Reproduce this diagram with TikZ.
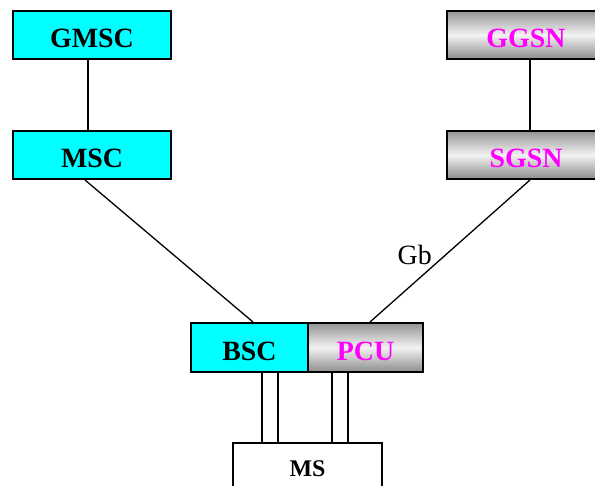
\documentclass[tikz,border=0pt]{standalone}
\usepackage{fontspec}
\setmainfont{Liberation Serif}
\usetikzlibrary{calc}
\definecolor{boxcyan}{HTML}{00FFFF}
\definecolor{labelmag}{HTML}{FF00FF}
\tikzset{
  netbox/.style={draw=black, line width=2bp, rectangle, inner sep=0pt,
    font=\fontsize{28}{30}\selectfont\bfseries, text height=30bp, text depth=4bp},
  cyanbox/.style={netbox, fill=boxcyan},
  greybox/.style={netbox, top color=black!42, bottom color=black!45,
    middle color=black!5, text=labelmag},
  link/.style={line width=1.3bp, black},
}
\begin{document}
\begin{tikzpicture}[x=1bp, y=-1bp]
  \useasboundingbox (0,0) rectangle (595,486);
  % circuit-switched side
  \node[cyanbox, minimum width=158bp, minimum height=48bp] (gmsc) at (92,35) {GMSC};
  \node[cyanbox, minimum width=158bp, minimum height=48bp] (msc) at (92,155) {MSC};
  % packet-switched side
  \node[greybox, minimum width=158bp, minimum height=48bp] (ggsn) at (526,35) {GGSN};
  \node[greybox, minimum width=158bp, minimum height=48bp] (sgsn) at (526,155) {SGSN};
  % base station controller with packet control unit
  \node[cyanbox, minimum width=117bp, minimum height=49bp] (bsc) at (249.5,347.5) {BSC};
  \node[greybox, minimum width=115bp, minimum height=49bp] (pcu) at (365.5,347.5) {PCU};
  % mobile station
  \node[draw=black, line width=1.5bp, fill=white, inner sep=0pt,
    minimum width=149bp, minimum height=47bp,
    font=\fontsize{24}{26}\selectfont\bfseries, text height=24bp, text depth=5bp]
    (ms) at (307.5,466.5) {MS};
  % links
  \draw[link] ([xshift=-4bp]gmsc.south) -- ([xshift=-4bp]msc.north);
  \draw[link] ([xshift=4bp]ggsn.south) -- ([xshift=4bp]sgsn.north);
  \draw[link] ([xshift=-7bp]msc.south) -- ([xshift=3.5bp]bsc.north);
  \draw[link] ([xshift=4bp]sgsn.south) -- ([xshift=4.5bp]pcu.north)
    node[pos=0.597, anchor=base west, xshift=-37.4bp, inner sep=0pt,
      font=\fontsize{28}{30}\selectfont] (gb) {Gb};
  % radio paths
  \draw[link] ([xshift=12.5bp]bsc.south) -- ([xshift=12.5bp]bsc.south |- ms.north);
  \draw[link] ([xshift=28.5bp]bsc.south) -- ([xshift=28.5bp]bsc.south |- ms.north);
  \draw[link] ([xshift=-33.5bp]pcu.south) -- ([xshift=-33.5bp]pcu.south |- ms.north);
  \draw[link] ([xshift=-17.5bp]pcu.south) -- ([xshift=-17.5bp]pcu.south |- ms.north);
\end{tikzpicture}
\end{document}
